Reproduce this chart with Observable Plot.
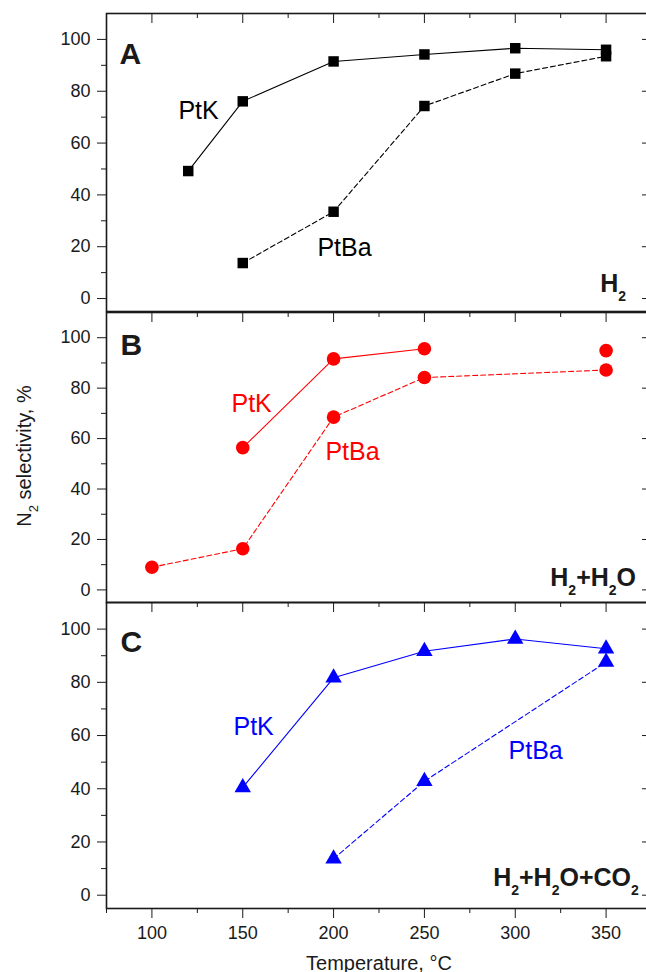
<!DOCTYPE html>
<html>
<head>
<meta charset="utf-8">
<script src="https://cdn.jsdelivr.net/npm/d3@7"></script>
<script src="https://cdn.jsdelivr.net/npm/@observablehq/plot@0.6"></script>
<style>
  body { margin: 0; background: #fff; }
  #chart { position: relative; width: 646px; height: 972px; overflow: hidden; background: #fff;
           font-family: "Liberation Sans", Arial, sans-serif; }
  #chart svg { position: absolute; left: 0; }
</style>
</head>
<body>
<div id="chart"></div>
<script>
// N2 selectivity (%) vs temperature (°C) for PtK and PtBa catalysts
// A: H2 feed
const tempA_PtK  = [120, 150, 200, 250, 300, 350];
const selA_PtK   = [49.2, 76.1, 91.5, 94.2, 96.6, 96.0];
const tempA_PtBa = [150, 200, 250, 300, 350];
const selA_PtBa  = [13.7, 33.5, 74.3, 86.8, 93.5];

// B: H2 + H2O feed (PtK has no 300 °C point, so its curve breaks there)
const tempB_PtK  = [150, 200, 250, 300, 350];
const selB_PtK   = [56.4, 91.6, 95.6, null, 94.9];
const tempB_PtBa = [100, 150, 200, 250, 350];
const selB_PtBa  = [9.0, 16.3, 68.5, 84.2, 87.2];

// C: H2 + H2O + CO2 feed
const tempC_PtK  = [150, 200, 250, 300, 350];
const selC_PtK   = [40.5, 81.7, 91.7, 96.3, 92.6];
const tempC_PtBa = [200, 250, 350];
const selC_PtBa  = [13.7, 42.8, 87.6];

// Axis ticks
const xMajor = [100, 150, 200, 250, 300, 350];
const xMinor = [75, 125, 175, 225, 275, 325, 375];
const yMajor = [0, 20, 40, 60, 80, 100];
const yMinor = [10, 30, 50, 70, 90];

const seriesNames = ["PtK", "PtBa"];
const xTitle = "Temperature, °C";
const yTitle = ["N", "2", " selectivity, %"];

const ink = "#1a1a1a";
const font = '"Liberation Sans", Arial, sans-serif';
const svgNS = "http://www.w3.org/2000/svg";

const rows = (t, v) => t.map((x, i) => ({t: x, v: v[i]}));

const panels = [
  {letter: "A", condition: "H_2", color: "#000000", symbol: "square", r: 5.9,
   frameTop: 13, frameH: 298,
   k: rows(tempA_PtK, selA_PtK), ba: rows(tempA_PtBa, selA_PtBa),
   letterAt: [82.2, 90.7], kAt: [114.6, 69.1], baAt: [191.1, 16.4], condAt: [361, 2.5]},
  {letter: "B", condition: "H_2+H_2O", color: "#ff0000", symbol: "circle", r: 6.8,
   frameTop: 312, frameH: 290,
   k: rows(tempB_PtK, selB_PtK), ba: rows(tempB_PtBa, selB_PtBa),
   letterAt: [82.7, 93.3], kAt: [143.8, 70.4], baAt: [195.5, 51.5], condAt: [366.5, 1.7]},
  {letter: "C", condition: "H_2+H_2O+CO_2", color: "#0000ff", symbol: "triangle", r: 6.1,
   frameTop: 602, frameH: 306,
   k: rows(tempC_PtK, selC_PtK), ba: rows(tempC_PtBa, selC_PtBa),
   letterAt: [82.7, 91.3], kAt: [144.9, 60.1], baAt: [296.3, 51.3], condAt: [368, 3.6]}
];

// Turn "H_2O" style strings into text with subscript tspans
function applySubscripts(svg, mainSize, subSize, shift) {
  svg.querySelectorAll("text").forEach(t => {
    const s = t.textContent;
    if (!s.includes("_")) return;
    while (t.firstChild) t.removeChild(t.firstChild);
    let lowered = false;
    for (const part of s.split(/(_.)/).filter(Boolean)) {
      const ts = document.createElementNS(svgNS, "tspan");
      if (part[0] === "_") {
        ts.textContent = part.slice(1);
        ts.setAttribute("font-size", subSize);
        if (!lowered) { ts.setAttribute("dy", shift); lowered = true; }
      } else {
        ts.textContent = part;
        ts.setAttribute("font-size", mainSize);
        if (lowered) { ts.setAttribute("dy", -shift); lowered = false; }
      }
      t.appendChild(ts);
    }
  });
}

const chart = document.getElementById("chart");

panels.forEach((p, i) => {
  const last = i === panels.length - 1;
  const mt = 10, mb = last ? 64 : 10;
  const marks = [
    Plot.line(p.k, {x: "t", y: "v", stroke: p.color, strokeWidth: 1.1}),
    Plot.line(p.ba, {x: "t", y: "v", stroke: p.color, strokeWidth: 1.1, strokeDasharray: "5,3"}),
    Plot.dot(p.k.filter(d => d.v != null), {x: "t", y: "v", symbol: p.symbol, r: p.r, fill: p.color, stroke: null}),
    Plot.dot(p.ba.filter(d => d.v != null), {x: "t", y: "v", symbol: p.symbol, r: p.r, fill: p.color, stroke: null}),
    Plot.text([p.letter], {x: p.letterAt[0], y: p.letterAt[1], text: d => d, textAnchor: "start",
      lineAnchor: "bottom", fontSize: 30, fontWeight: "bold", fill: ink}),
    Plot.text([seriesNames[0]], {x: p.kAt[0], y: p.kAt[1], text: d => d, textAnchor: "start",
      lineAnchor: "bottom", fontSize: 25, fill: p.color}),
    Plot.text([seriesNames[1]], {x: p.baAt[0], y: p.baAt[1], text: d => d, textAnchor: "start",
      lineAnchor: "bottom", fontSize: 25, fill: p.color}),
    Plot.text([p.condition], {x: p.condAt[0], y: p.condAt[1], text: d => d, textAnchor: "end",
      lineAnchor: "bottom", fontSize: 25, fontWeight: "bold", fill: ink}),
    // left axis: outward ticks with labels
    Plot.axisY(yMajor, {anchor: "left", tickSize: 9, tickPadding: 7, fontSize: 18, label: null, color: ink}),
    Plot.axisY(yMinor, {anchor: "left", tickSize: 5, tickFormat: () => "", label: null, color: ink}),
    // right border: inward ticks
    Plot.axisY(yMajor, {anchor: "left", frameAnchor: "right", tickSize: 9, tickFormat: () => "", label: null, color: ink}),
    Plot.axisY(yMinor, {anchor: "left", frameAnchor: "right", tickSize: 5, tickFormat: () => "", label: null, color: ink}),
    // top border: inward ticks
    Plot.axisX(xMajor, {anchor: "bottom", frameAnchor: "top", tickSize: 10, tickFormat: () => "", label: null, color: ink}),
    Plot.axisX(xMinor, {anchor: "bottom", frameAnchor: "top", tickSize: 5, tickFormat: () => "", label: null, color: ink}),
    Plot.frame({stroke: ink, strokeWidth: 1.6})
  ];
  if (last) {
    marks.push(
      Plot.axisX(xMajor, {anchor: "bottom", tickSize: 10, tickPadding: 8, fontSize: 18, label: null, color: ink}),
      Plot.axisX(xMinor, {anchor: "bottom", tickSize: 5, tickFormat: () => "", label: null, color: ink}),
      Plot.text([xTitle], {frameAnchor: "bottom", dy: 61, lineAnchor: "bottom", text: d => d, fontSize: 20, fill: ink})
    );
  }
  const svg = Plot.plot({
    width: 652,
    height: mt + p.frameH + mb,
    marginLeft: 106, marginRight: 1, marginTop: mt, marginBottom: mb,
    x: {domain: [75, 375], axis: null},
    y: {domain: [-5, 110], axis: null},
    style: {fontFamily: font, background: "transparent", maxWidth: "none", overflow: "visible"},
    marks
  });
  svg.style.top = (p.frameTop - mt) + "px";
  svg.style.maxWidth = "none";
  applySubscripts(svg, 25, 14, 9);
  chart.appendChild(svg);
});

// Shared y-axis title, rotated, with subscript
const ySvg = d3.create("svg")
  .attr("width", 60).attr("height", 972)
  .style("top", "0px").style("overflow", "visible");
const yText = ySvg.append("text")
  .attr("transform", "translate(31,456) rotate(-90)")
  .attr("text-anchor", "middle")
  .attr("font-family", font).attr("font-size", 20).attr("fill", ink);
yText.append("tspan").text(yTitle[0]);
yText.append("tspan").attr("font-size", 13).attr("dy", 7).text(yTitle[1]);
yText.append("tspan").attr("dy", -7).text(yTitle[2]);
chart.appendChild(ySvg.node());
</script>
</body>
</html>
